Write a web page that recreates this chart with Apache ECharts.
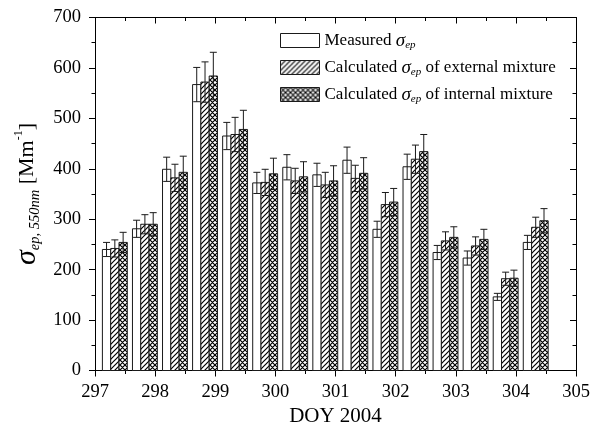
<!DOCTYPE html>
<html>
<head>
<meta charset="utf-8">
<script src="https://cdn.jsdelivr.net/npm/echarts@6/dist/echarts.min.js"></script>
<style>
html,body{margin:0;padding:0;background:#fff;}
#chart{width:590px;height:426px;}
</style>
</head>
<body>
<div id="chart"></div>
<script>
// ---- data ----
const days = [297.33, 297.83, 298.33, 298.83, 299.33, 299.83, 300.33, 300.83, 301.33, 301.83, 302.33, 302.83, 303.33, 303.83, 304.33];
const measured    = [240, 281, 399, 567, 465, 372, 403, 388, 417, 280, 404, 234, 223, 146, 254];
const measuredErr = [14, 17, 24, 34, 27, 21, 25, 23, 26, 16, 25, 14, 14, 7, 14];
const external    = [242, 290, 382, 572, 468, 373, 376, 368, 381, 329, 419, 257, 247, 182, 284];
const externalErr = [17, 19, 27, 40, 34, 26, 25, 25, 26, 24, 28, 18, 18, 13, 20];
const internal    = [254, 290, 393, 584, 478, 390, 384, 376, 391, 334, 434, 264, 260, 183, 297];
const internalErr = [20, 23, 32, 47, 38, 31, 30, 30, 31, 27, 34, 21, 20, 16, 24];
const seriesNames = ['Measured', 'External', 'Internal'];
const xTicks = {min: 297, max: 305, interval: 1};
const yTicks = {min: 0, max: 700, interval: 100};

// ---- styles ----
const SERIF = '"Liberation Serif", "Times New Roman", "DejaVu Serif", serif';
const BAR_W = 0.138;
const INK = '#1a1a1a';

function makePattern(kind) {
  const s = 5;
  const c = document.createElement('canvas');
  c.width = s; c.height = s;
  const g = c.getContext('2d');
  g.fillStyle = '#fff';
  g.fillRect(0, 0, s, s);
  if (kind === 'none') return c;
  g.strokeStyle = '#000';
  g.lineWidth = 1.2;
  g.beginPath();
  g.moveTo(-1, s + 1); g.lineTo(s + 1, -1);
  g.moveTo(-1, 1); g.lineTo(1, -1);
  g.moveTo(s - 1, s + 1); g.lineTo(s + 1, s - 1);
  if (kind === 'cross') {
    g.moveTo(-1, -1); g.lineTo(s + 1, s + 1);
    g.moveTo(s - 1, -1); g.lineTo(s + 1, 1);
    g.moveTo(-1, s - 1); g.lineTo(1, s + 1);
  }
  g.stroke();
  return c;
}
const fills = [
  '#ffffff',
  {image: makePattern('hatch'), repeat: 'repeat'},
  {image: makePattern('cross'), repeat: 'repeat'}
];

function buildData(vals, errs) {
  return days.map((d, i) => [d, vals[i], errs[i]]);
}

function makeRender(idx) {
  return function (params, api) {
    const x = api.value(0), y = api.value(1), e = api.value(2);
    const base = api.coord([x, 0]);
    const top = api.coord([x, y]);
    const w = api.size([BAR_W, 0])[0];
    const cx = base[0] + (idx - 1) * w;
    const left = cx - w / 2;
    const hi = api.coord([x, y + e])[1];
    const lo = api.coord([x, y - e])[1];
    const capHalf = 3.5;
    const lineStyle = {stroke: INK, lineWidth: 1};
    return {
      type: 'group',
      children: [
        {type: 'rect', shape: {x: left, y: top[1], width: w, height: base[1] - top[1]},
         style: {fill: fills[idx], stroke: INK, lineWidth: 1}},
        {type: 'line', shape: {x1: cx, y1: hi, x2: cx, y2: lo}, style: lineStyle},
        {type: 'line', shape: {x1: cx - capHalf, y1: hi, x2: cx + capHalf, y2: hi}, style: lineStyle},
        {type: 'line', shape: {x1: cx - capHalf, y1: lo, x2: cx + capHalf, y2: lo}, style: lineStyle}
      ]
    };
  };
}

const allVals = [measured, external, internal];
const allErrs = [measuredErr, externalErr, internalErr];
const series = seriesNames.map((name, idx) => ({
  name: name,
  type: 'custom',
  xAxisIndex: 0,
  yAxisIndex: 0,
  renderItem: makeRender(idx),
  itemStyle: {color: fills[idx], borderColor: INK, borderWidth: 1},
  encode: {x: 0, y: [1]},
  data: buildData(allVals[idx], allErrs[idx]),
  clip: false
}));

const legendLabels = {
  'Measured': '{n|Measured }{s|σ}{sub|ep}',
  'External': '{n|Calculated }{s|σ}{sub|ep}{n| of external mixture}',
  'Internal': '{n|Calculated }{s|σ}{sub|ep}{n| of internal mixture}'
};

const axisLine = {show: true, onZero: false, lineStyle: {color: '#000', width: 1}};

const chart = echarts.init(document.getElementById('chart'), null, {renderer: 'canvas'});
chart.setOption({
  animation: false,
  backgroundColor: '#fff',
  grid: {left: 95, right: 14, top: 17.5, bottom: 55.5, containLabel: false, outerBoundsMode: 'none'},
  legend: {
    show: true,
    orient: 'vertical',
    left: 280,
    top: 31,
    padding: 0,
    itemWidth: 39,
    itemHeight: 14,
    itemGap: 7.5,
    icon: 'rect',
    selectedMode: false,
    itemStyle: {borderColor: INK, borderWidth: 1},
    data: seriesNames,
    formatter: name => legendLabels[name],
    textStyle: {
      fontFamily: SERIF, fontSize: 17, color: '#000',
      rich: {
        n: {fontFamily: SERIF, fontSize: 17, color: '#000', lineHeight: 20},
        s: {fontFamily: SERIF, fontSize: 19, fontStyle: 'italic', color: '#000', lineHeight: 20},
        sub: {fontFamily: SERIF, fontSize: 11, fontStyle: 'italic', color: '#000', verticalAlign: 'bottom', lineHeight: 12}
      }
    }
  },
  xAxis: [
    {
      type: 'value', position: 'bottom', min: xTicks.min, max: xTicks.max, interval: xTicks.interval,
      axisLine: axisLine,
      axisTick: {show: true, inside: false, length: 6, lineStyle: {color: '#000'}},
      minorTick: {show: true, splitNumber: 2, length: 3.5, lineStyle: {color: '#000'}},
      splitLine: {show: false}, minorSplitLine: {show: false},
      axisLabel: {show: true, fontFamily: SERIF, fontSize: 18.5, color: '#000', margin: 12},
      name: 'DOY 2004', nameLocation: 'middle', nameGap: 33,
      nameTextStyle: {fontFamily: SERIF, fontSize: 21, color: '#000'}
    },
    {
      type: 'value', position: 'top', min: xTicks.min, max: xTicks.max, interval: xTicks.interval,
      axisLine: axisLine,
      axisTick: {show: true, inside: true, length: 6, lineStyle: {color: '#000'}},
      minorTick: {show: true, splitNumber: 2, length: 3.5, lineStyle: {color: '#000'}},
      splitLine: {show: false}, axisLabel: {show: false}
    }
  ],
  yAxis: [
    {
      type: 'value', position: 'left', min: yTicks.min, max: yTicks.max, interval: yTicks.interval,
      axisLine: axisLine,
      axisTick: {show: true, inside: false, length: 6, lineStyle: {color: '#000'}},
      minorTick: {show: true, splitNumber: 2, length: 3.5, lineStyle: {color: '#000'}},
      splitLine: {show: false}, minorSplitLine: {show: false},
      axisLabel: {show: true, fontFamily: SERIF, fontSize: 18.5, color: '#000', margin: 14},
      name: '{s|σ}{sub|ep, 550nm}{n| [Mm}{sup|-1}{n|]}',
      nameLocation: 'middle', nameGap: 52, nameRotate: 90,
      nameTextStyle: {
        fontFamily: SERIF, fontSize: 21, color: '#000',
        rich: {
          n: {fontFamily: SERIF, fontSize: 22, color: '#000', lineHeight: 30},
          s: {fontFamily: SERIF, fontSize: 30, fontStyle: 'italic', color: '#000', lineHeight: 30},
          sub: {fontFamily: SERIF, fontSize: 14.5, fontStyle: 'italic', color: '#000', verticalAlign: 'bottom', lineHeight: 15},
          sup: {fontFamily: SERIF, fontSize: 12, color: '#000', verticalAlign: 'top', lineHeight: 17}
        }
      }
    },
    {
      type: 'value', position: 'right', min: yTicks.min, max: yTicks.max, interval: yTicks.interval,
      axisLine: axisLine,
      axisTick: {show: true, inside: true, length: 6, lineStyle: {color: '#000'}},
      minorTick: {show: true, splitNumber: 2, length: 3.5, lineStyle: {color: '#000'}},
      splitLine: {show: false}, axisLabel: {show: false}
    }
  ],
  series: series
});
</script>
</body>
</html>
